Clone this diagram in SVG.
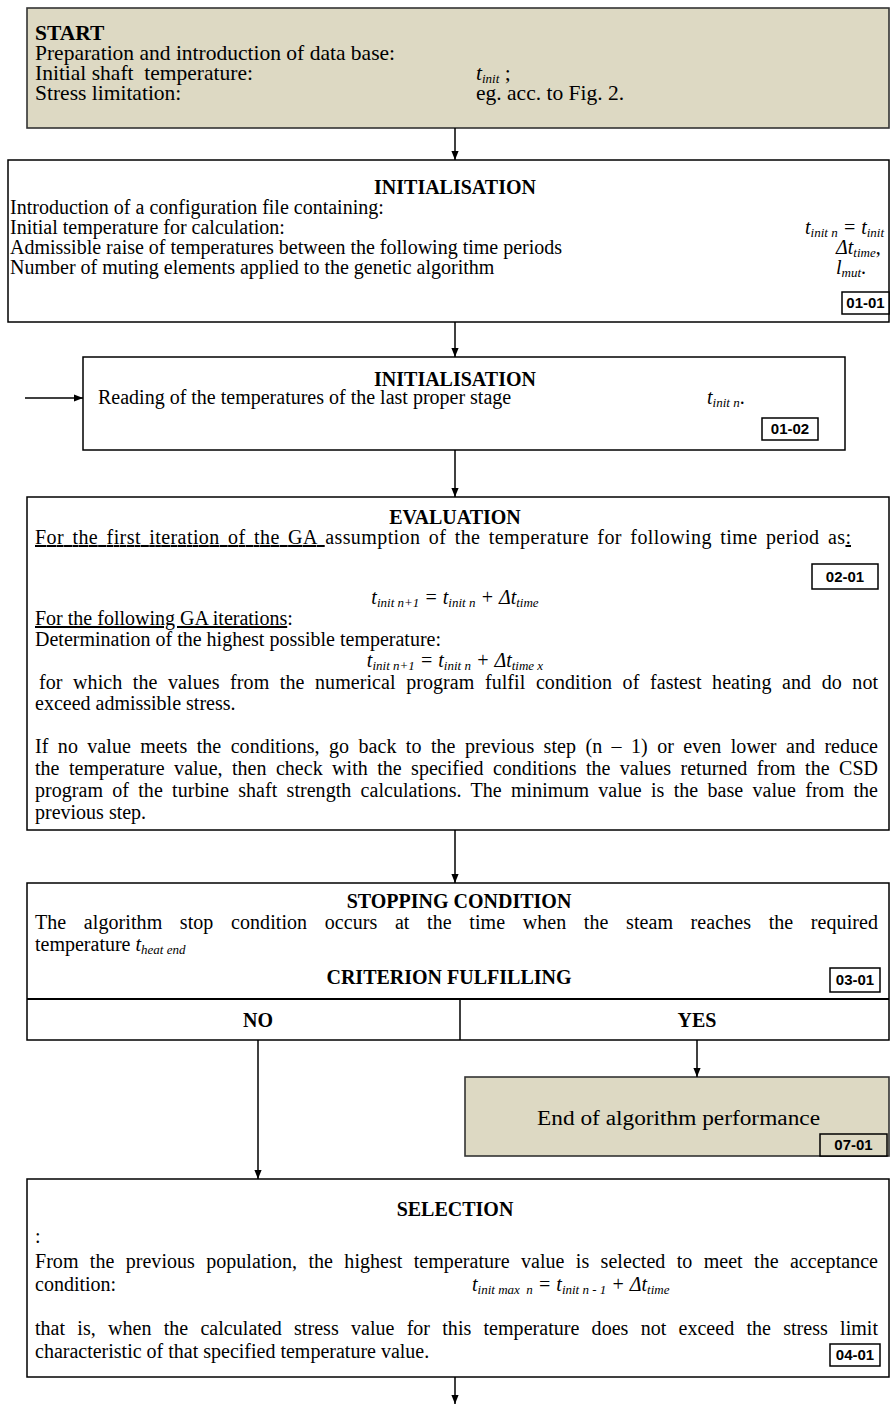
<svg xmlns="http://www.w3.org/2000/svg" width="891" height="1408" viewBox="0 0 891 1408">
<defs>
<marker id="ah" viewBox="0 0 10 10" refX="10" refY="5" markerWidth="10" markerHeight="9" markerUnits="userSpaceOnUse" orient="auto"><path d="M0,1 L10,5 L0,9 Z" fill="#000"/></marker>
</defs>
<style>
.box{fill:#fff;stroke:#000;stroke-width:1.5}
.tan{fill:#DDD9C3;stroke:#333;stroke-width:1.6}
.lbl{fill:#fff;stroke:#000;stroke-width:1.5}
.lbt{fill:#DDD9C3;stroke:#000;stroke-width:1.5}
.t{font-family:'Liberation Serif','Times New Roman',serif;font-size:20px;fill:#000}
.st{font-size:21.5px}
.h{font-family:'Liberation Serif','Times New Roman',serif;font-size:20px;font-weight:bold;text-anchor:middle;fill:#000}
.code{font-family:'Liberation Sans',Arial,sans-serif;font-size:15px;font-weight:bold;text-anchor:middle;fill:#000}
.i{font-style:italic}
.s{font-size:13px;font-style:italic}
.c{fill:none;stroke:#000;stroke-width:1.5}
.u{text-decoration:underline}
</style>

<g id="start">
<rect class="tan" x="27" y="8" width="862" height="120"/>
<text class="t st" x="35" y="40" font-weight="bold">START</text>
<text class="t st" x="35" y="60">Preparation and introduction of data base:</text>
<text class="t st" x="35" y="80" xml:space="preserve">Initial shaft  temperature:</text>
<text class="t st" x="476" y="80"><tspan class="i">t</tspan><tspan class="s" dy="3">init</tspan><tspan dy="-3"> ;</tspan></text>
<text class="t st" x="35" y="100">Stress limitation:</text>
<text class="t st" x="476" y="100">eg. acc. to Fig. 2.</text>
</g>

<g id="init1">
<rect class="box" x="8" y="160" width="881" height="162"/>
<text class="h" x="455" y="194">INITIALISATION</text>
<text class="t" x="10" y="214">Introduction of a configuration file containing:</text>
<text class="t" x="10" y="234">Initial temperature for calculation:</text>
<text class="t" x="805" y="234" font-size="14.5"><tspan class="i">t</tspan><tspan class="s" font-size="9" dy="3">init n</tspan><tspan dy="-3" class="i"> = t</tspan><tspan class="s" font-size="9" dy="3">init</tspan></text>
<text class="t" x="10" y="254">Admissible raise of temperatures between the following time periods</text>
<text class="t" x="836" y="254" font-size="18"><tspan class="i">Δt</tspan><tspan class="s" font-size="11" dy="3">time</tspan><tspan dy="-3">,</tspan></text>
<text class="t" x="10" y="274">Number of muting elements applied to the genetic algorithm</text>
<text class="t" x="836" y="274" font-size="18"><tspan class="i">l</tspan><tspan class="s" font-size="11" dy="3">mut</tspan><tspan dy="-3">.</tspan></text>
<rect class="lbl" x="842" y="292" width="47" height="22"/>
<text class="code" x="865.5" y="308">01-01</text>
</g>

<g id="init2">
<rect class="box" x="83" y="357" width="762" height="93"/>
<text class="h" x="455" y="386">INITIALISATION</text>
<text class="t" x="98" y="404">Reading of the temperatures of the last proper stage</text>
<text class="t" x="707" y="404" font-size="18"><tspan class="i">t</tspan><tspan class="s" font-size="11" dy="3">init n</tspan><tspan dy="-3">.</tspan></text>
<rect class="lbl" x="762" y="418" width="56" height="22"/>
<text class="code" x="790" y="434">01-02</text>
</g>

<g id="evaluation">
<rect class="box" x="27" y="497" width="862" height="333"/>
<text class="h" x="455" y="524">EVALUATION</text>
<text class="t" x="35" y="544" word-spacing="3" textLength="816" lengthAdjust="spacing"><tspan class="u">For the first iteration of the GA </tspan>assumption of the temperature for following time period as<tspan class="u">:</tspan></text>
<rect class="lbl" x="812" y="564" width="66" height="25"/>
<text class="code" x="845" y="582">02-01</text>
<text class="t" x="455" y="604" text-anchor="middle"><tspan class="i">t</tspan><tspan class="s" dy="3">init n+1</tspan><tspan class="i" dy="-3"> = t</tspan><tspan class="s" dy="3">init n</tspan><tspan class="i" dy="-3"> + Δt</tspan><tspan class="s" dy="3">time</tspan></text>
<text class="t" x="35" y="625"><tspan class="u">For the following GA iterations</tspan>:</text>
<text class="t" x="35" y="646">Determination of the highest possible temperature:</text>
<text class="t" x="455" y="667" text-anchor="middle"><tspan class="i">t</tspan><tspan class="s" dy="3">init n+1</tspan><tspan class="i" dy="-3"> = t</tspan><tspan class="s" dy="3">init n</tspan><tspan class="i" dy="-3"> + Δt</tspan><tspan class="s" dy="3">time x</tspan></text>
<text class="t" x="39" y="689" word-spacing="5.5" textLength="839" lengthAdjust="spacing">for which the values from the numerical program fulfil condition of fastest heating and do not</text>
<text class="t" x="35" y="710">exceed admissible stress.</text>
<text class="t" x="35" y="753" word-spacing="4.3" textLength="843" lengthAdjust="spacing">If no value meets the conditions, go back to the previous step (n – 1) or even lower and reduce</text>
<text class="t" x="35" y="775" word-spacing="4.4" textLength="843" lengthAdjust="spacing">the temperature value, then check with the specified conditions the values returned from the CSD</text>
<text class="t" x="35" y="797" word-spacing="4.2" textLength="843" lengthAdjust="spacing">program of the turbine shaft strength calculations. The minimum value is the base value from the</text>
<text class="t" x="35" y="819">previous step.</text>
</g>

<g id="stopping">
<rect class="box" x="27" y="883" width="862" height="157"/>
<line x1="27" y1="999" x2="889" y2="999" stroke="#000" stroke-width="2.2"/>
<line class="c" x1="460" y1="999" x2="460" y2="1040"/>
<text class="h" x="459" y="908" font-size="21.5">STOPPING CONDITION</text>
<text class="t" x="35" y="929" word-spacing="12.5" textLength="843" lengthAdjust="spacing">The algorithm stop condition occurs at the time when the steam reaches the required</text>
<text class="t" x="35" y="951">temperature <tspan class="i">t</tspan><tspan class="s" dy="3">heat end</tspan></text>
<text class="h" x="449" y="984" font-size="19">CRITERION FULFILLING</text>
<rect class="lbl" x="830" y="968" width="50" height="24"/>
<text class="code" x="855" y="985">03-01</text>
<text class="h" x="258" y="1027">NO</text>
<text class="h" x="697" y="1027">YES</text>
</g>

<g id="end">
<rect class="tan" x="465" y="1077" width="424" height="79"/>
<text class="t" x="537" y="1125" font-size="24" textLength="283" lengthAdjust="spacingAndGlyphs">End of algorithm performance</text>
<rect class="lbt" x="820" y="1134" width="67" height="22"/>
<text class="code" x="853.5" y="1150">07-01</text>
</g>

<g id="selection">
<rect class="box" x="27" y="1179" width="862" height="198"/>
<text class="h" x="455" y="1216">SELECTION</text>
<text class="t" x="35" y="1243">:</text>
<text class="t" x="35" y="1268" word-spacing="6.3" textLength="843" lengthAdjust="spacing">From the previous population, the highest temperature value is selected to meet the acceptance</text>
<text class="t" x="35" y="1291">condition:</text>
<text class="t" x="472" y="1291" xml:space="preserve"><tspan class="i">t</tspan><tspan class="s" dy="3">init max  n</tspan><tspan class="i" dy="-3"> = t</tspan><tspan class="s" dy="3">init n - 1</tspan><tspan class="i" dy="-3"> + Δt</tspan><tspan class="s" dy="3">time</tspan></text>
<text class="t" x="35" y="1335" word-spacing="7.2" textLength="843" lengthAdjust="spacing">that is, when the calculated stress value for this temperature does not exceed the stress limit</text>
<text class="t" x="35" y="1358">characteristic of that specified temperature value.</text>
<rect class="lbl" x="830" y="1344" width="50" height="22"/>
<text class="code" x="855" y="1360">04-01</text>
</g>

<g id="connectors">
<line class="c" x1="455" y1="128" x2="455" y2="160" marker-end="url(#ah)"/>
<line class="c" x1="455" y1="322" x2="455" y2="357" marker-end="url(#ah)"/>
<line class="c" x1="25" y1="398" x2="83" y2="398" marker-end="url(#ah)"/>
<line class="c" x1="455" y1="450" x2="455" y2="497" marker-end="url(#ah)"/>
<line class="c" x1="455" y1="830" x2="455" y2="883" marker-end="url(#ah)"/>
<line class="c" x1="258" y1="1040" x2="258" y2="1179" marker-end="url(#ah)"/>
<line class="c" x1="697" y1="1040" x2="697" y2="1077" marker-end="url(#ah)"/>
<line class="c" x1="455" y1="1377" x2="455" y2="1404" marker-end="url(#ah)"/>
</g>
</svg>
